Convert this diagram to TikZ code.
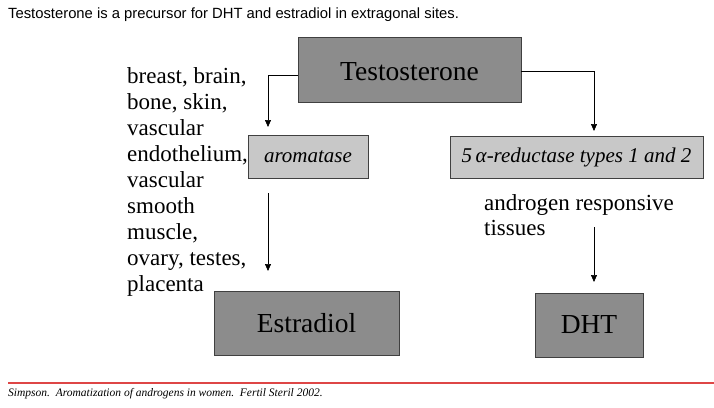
\documentclass[tikz,border=0pt]{standalone}
\usepackage{fontspec}
\setmainfont{Liberation Serif}
\newfontfamily\arialf{Liberation Sans}
\usetikzlibrary{arrows.meta}
\definecolor{darkbox}{RGB}{140,140,140}
\definecolor{lightbox}{RGB}{200,200,200}
\definecolor{rulered}{RGB}{222,70,70}
\tikzset{
  darkstyle/.style={draw=black!75, line width=0.6pt, fill=darkbox, inner sep=0pt,
    font=\fontsize{27.5}{30}\selectfont},
  lightstyle/.style={draw=black!75, line width=0.6pt, fill=lightbox, inner sep=0pt,
    font=\fontsize{21}{24}\selectfont\itshape},
  arr/.style={draw=black, line width=0.7pt, -{Triangle[width=6pt,length=7pt]}},
  bodytext/.style={anchor=north west, inner sep=0pt, align=left,
    font=\fontsize{23}{26}\selectfont}
}
\begin{document}
\begin{tikzpicture}[x=1pt,y=-1pt]
\useasboundingbox (0,0) rectangle (714,407);
\fill[white] (0,0) rectangle (714,407);
% title
\node[anchor=base west, inner sep=0pt, font=\arialf\fontsize{14.8}{17}\selectfont] (title) at (8,18)
  {Testosterone is a precursor for DHT and estradiol in extragonal sites.};
% boxes
\node[darkstyle, minimum width=223pt, minimum height=65pt, text depth=0pt] (T) at (409.5,69.5) {\raisebox{-3pt}{Testosterone}};
\node[lightstyle, minimum width=120pt, minimum height=43pt] (A) at (308,156.5) {aromatase};
\node[lightstyle, minimum width=253pt, minimum height=42pt] (R) at (576.5,157) {5\,α-reductase types 1 and 2};
\node[darkstyle, minimum width=185pt, minimum height=64pt] (E) at (306.5,323) {Estradiol};
\node[darkstyle, minimum width=108pt, minimum height=64pt] (D) at (589,325) {DHT};
% texts
\node[bodytext] (tissuesL) at (127,67.3) {breast, brain,\\bone, skin,\\vascular\\endothelium,\\vascular\\smooth\\muscle,\\ovary, testes,\\placenta};
\node[bodytext, font=\fontsize{23}{25}\selectfont] (tissuesR) at (484,194.5) {androgen responsive\\tissues};
% connectors
\coordinate (a1) at (268,127);
\coordinate (r1) at (594,131);
\coordinate (a2) at (268,193);
\coordinate (a3) at (268,271);
\coordinate (r2) at (594,227);
\coordinate (r3) at (594,282);
\draw[arr] ([yshift=-5.5pt]T.west) -| (a1);
\draw[arr] ([yshift=-1.5pt]T.east) -| (r1);
\draw[arr] (a2) -- (a3);
\draw[arr] (r2) -- (r3);
% footer
\coordinate (f1) at (8,383);
\coordinate (f2) at (714,383);
\draw[rulered, line width=1.5pt] (f1) -- (f2);
\node[anchor=base west, inner sep=0pt, font=\fontsize{11.5}{13}\selectfont\itshape] (cite) at (8,396)
  {Simpson.\ \ Aromatization of androgens in women.\ \ Fertil Steril 2002.};
\end{tikzpicture}
\end{document}
